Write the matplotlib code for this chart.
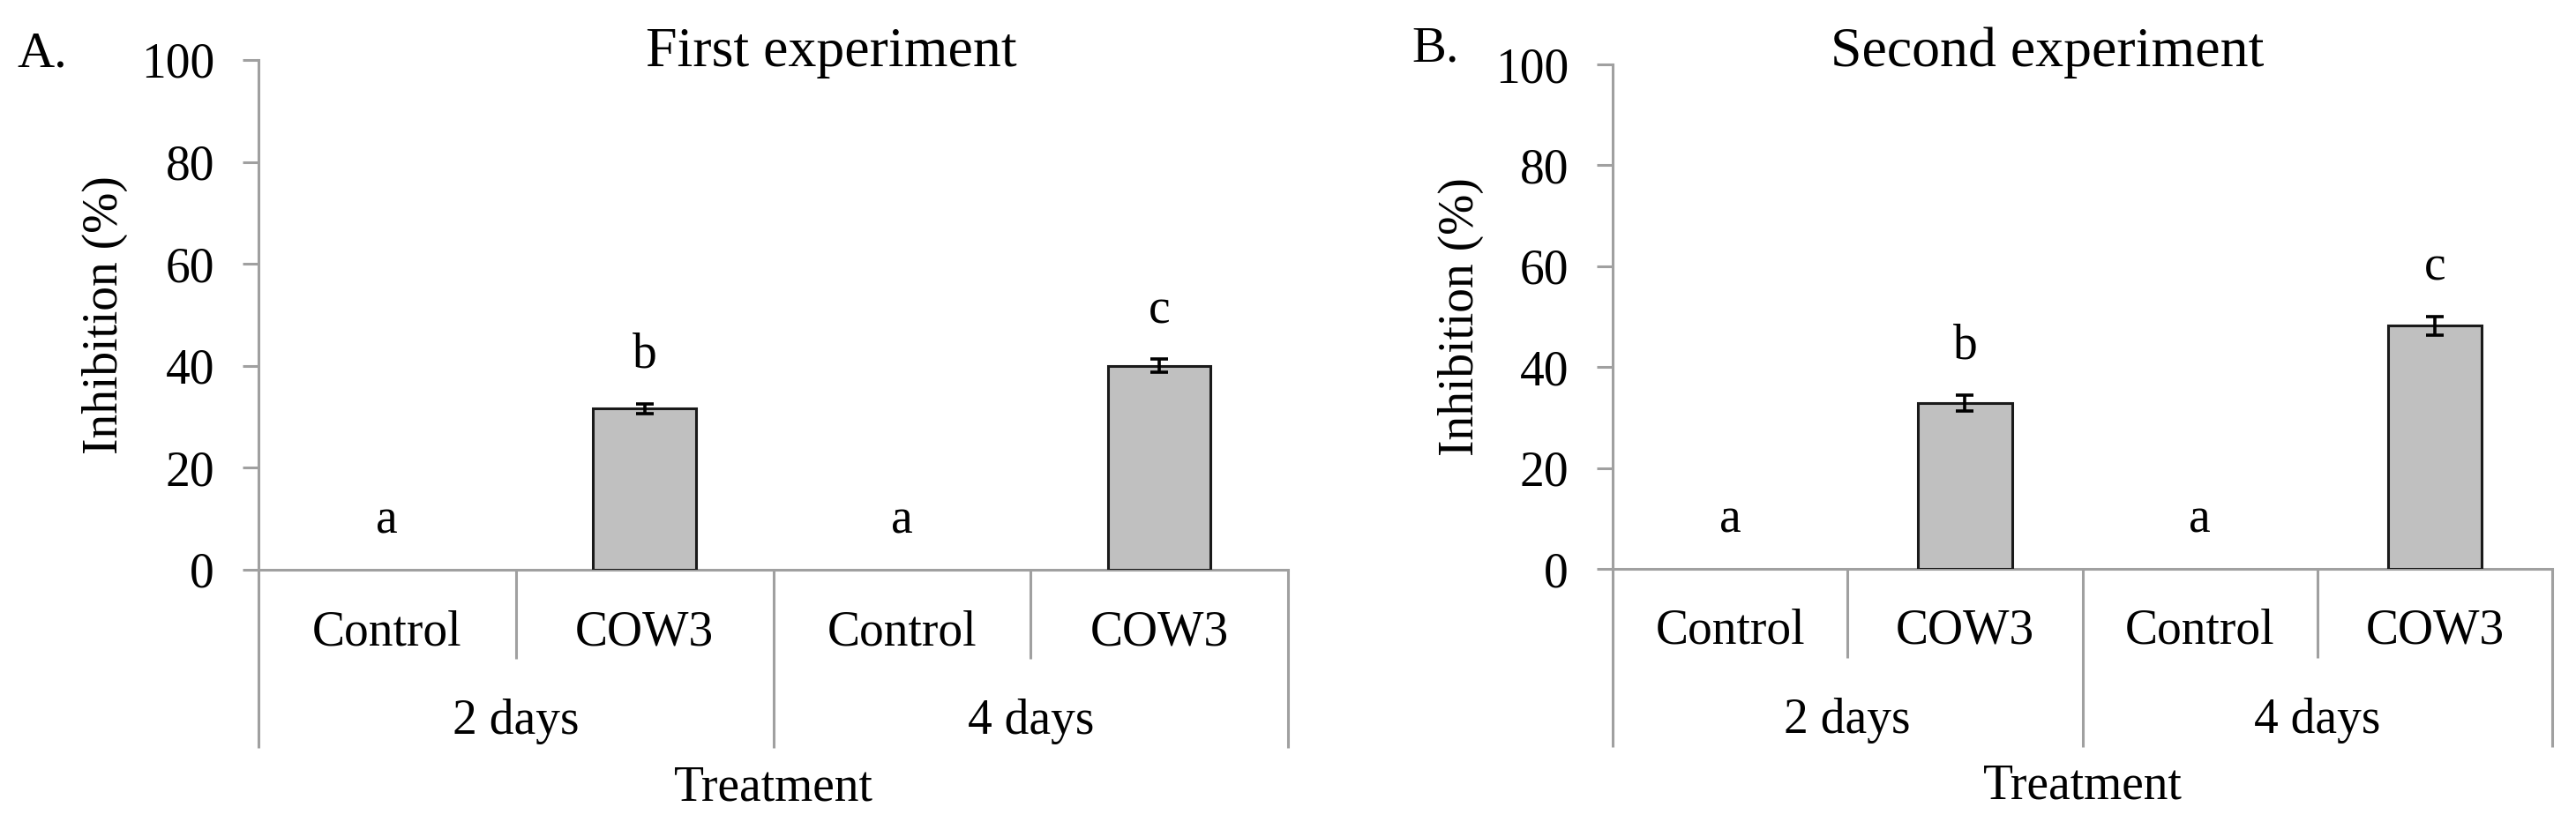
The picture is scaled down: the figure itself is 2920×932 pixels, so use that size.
import numpy as np
import matplotlib
matplotlib.use('Agg')
import matplotlib.pyplot as plt

plt.rcParams['font.family'] = ['Liberation Serif', 'DejaVu Serif']

# data
treatments = ['Control', 'COW3', 'Control', 'COW3']
groups = ['2 days', '4 days']
exp1_mean = [0.0, 31.6, 0.0, 40.0]
exp1_err = [0.0, 1.0, 0.0, 1.3]
exp2_mean = [0.0, 32.9, 0.0, 48.2]
exp2_err = [0.0, 1.6, 0.0, 1.8]
letters = ['a', 'b', 'a', 'c']
yticks = [0, 20, 40, 60, 80, 100]

W, H = 2920, 932
fig = plt.figure(figsize=(W / 100, H / 100), dpi=100)

axis_grey = '#a0a0a0'
short_px = 101   # depth of the treatment dividers below the axis
long_px = 202    # depth of the day dividers


def panel(left, right, top, zero, means, errs, title, title_x, tag, tag_x, tag_y, ylab_x):
    ax = fig.add_axes([left / W, 1 - zero / H, (right - left) / W, (zero - top) / H])
    h_px = zero - top
    x = np.arange(len(means))
    lw = [0 if m == 0 else 2.2 for m in means]
    ax.bar(x, means, width=0.4, color='#c0c0c0', edgecolor='#1a1a1a', linewidth=lw, zorder=3)
    m = np.array(errs) > 0
    ax.errorbar(x[m], np.array(means)[m], yerr=np.array(errs)[m], fmt='none',
                ecolor='black', elinewidth=2.6, capsize=7, capthick=2.6, zorder=4)
    for xi, mu, e, lt in zip(x, means, errs, letters):
        ax.annotate(lt, (xi, mu + e), xytext=(0, 21), textcoords='offset points',
                    ha='center', va='bottom', fontsize=40)

    ax.set_xlim(-0.5, len(means) - 0.5)
    ax.set_ylim(0, 100)
    ax.set_yticks(yticks)
    ax.tick_params(axis='y', labelsize=40, length=13, width=2.2, color=axis_grey, pad=23)
    ax.tick_params(axis='x', length=0, labelbottom=False)
    for s in ['top', 'right']:
        ax.spines[s].set_visible(False)
    for s in ['left', 'bottom']:
        ax.spines[s].set_color(axis_grey)
        ax.spines[s].set_linewidth(2.2)

    # category table under the axis
    tr = ax.get_xaxis_transform()
    d_short = -short_px / h_px
    d_long = -long_px / h_px
    edges = np.arange(len(means) + 1) - 0.5
    for i, xe in enumerate(edges):
        depth = d_long if i % 2 == 0 else d_short
        ax.plot([xe, xe], [0, depth], transform=tr, color=axis_grey, lw=2.2,
                clip_on=False, solid_capstyle='butt')
    for xi, lab in zip(x, treatments):
        ax.text(xi, -71 / h_px, lab, transform=tr, ha='center', va='center', fontsize=40)
    for gi, g in enumerate(groups):
        ax.text(2 * gi + 0.5, -172 / h_px, g, transform=tr, ha='center', va='center', fontsize=40)
    ax.text(0.5, -247 / h_px, 'Treatment', transform=ax.transAxes, ha='center', va='center', fontsize=40)

    fig.text(title_x / W, 1 - 75 / H, title, ha='center', va='baseline', fontsize=46)
    fig.text(tag_x / W, 1 - tag_y / H, tag, ha='left', va='baseline', fontsize=42)
    fig.text(ylab_x / W, 1 - (top + zero) / 2 / H, 'Inhibition (%)', rotation=90,
             ha='center', va='center', fontsize=40)
    return ax


panel(293, 1460, 68, 646, exp1_mean, exp1_err, 'First experiment', 942, 'A.', 19, 75, 119)
panel(1828, 2893, 73, 645, exp2_mean, exp2_err, 'Second experiment', 2321, 'B.', 1600, 69, 1656)

fig.savefig('out.png', dpi=100, facecolor='white')
